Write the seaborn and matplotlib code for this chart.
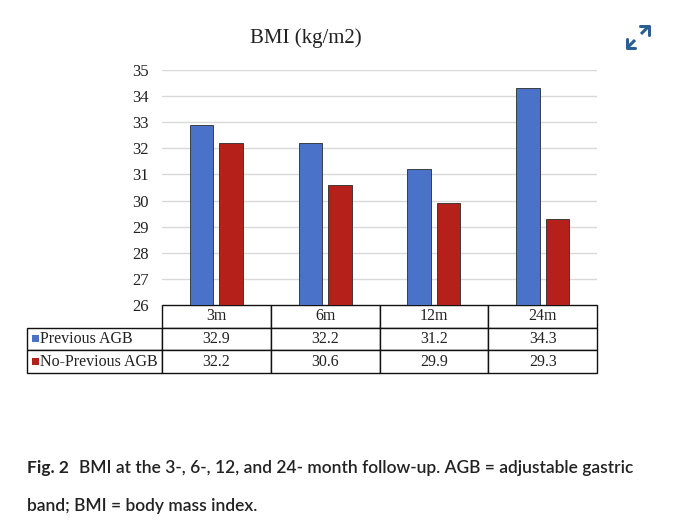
import matplotlib
matplotlib.use("Agg")
import matplotlib.pyplot as plt
import seaborn as sns
import pandas as pd
from matplotlib.patches import Rectangle

categories = ["3m", "6m", "12m", "24m"]
series_names = ["Previous AGB", "No-Previous AGB"]
previous_agb = [32.9, 32.2, 31.2, 34.3]
no_previous_agb = [32.2, 30.6, 29.9, 29.3]
y_ticks = [26, 27, 28, 29, 30, 31, 32, 33, 34, 35]

df = pd.DataFrame({
    "period": categories * 2,
    "group": [series_names[0]] * 4 + [series_names[1]] * 4,
    "bmi": previous_agb + no_previous_agb,
})

sns.set_theme(style="white")
plt.rcParams["font.family"] = ["Liberation Serif", "DejaVu Serif"]

W, H = 680, 527
fig = plt.figure(figsize=(W / 100, H / 100), dpi=100)

def fx(px):
    return px / W

def fy(py):
    return 1 - py / H

blue = "#4a72c8"
red = "#b5201b"

ax_l, ax_r, ax_t, ax_b = 162, 597, 70, 305
ax = fig.add_axes([fx(ax_l), fy(ax_b), fx(ax_r - ax_l), (ax_b - ax_t) / H])
sns.barplot(data=df, x="period", y="bmi", hue="group", order=categories,
            hue_order=series_names, palette=[blue, red], width=0.54, gap=0.2,
            saturation=1, edgecolor="#2a2a2a", linewidth=0.6, ax=ax, legend=False)
ax.set_ylim(26, 35)
ax.set_xlim(-0.5, 3.5)
ax.set_yticks(y_ticks)
ax.set_yticklabels([str(t) for t in y_ticks], fontsize=12, color="#222222")
ax.tick_params(axis="y", length=0, pad=9.5)
ax.set_xticks([])
ax.set_xlabel("")
ax.set_ylabel("")
ax.yaxis.grid(True, color="#d9d9d9", linewidth=1)
ax.set_axisbelow(True)
for s in ax.spines.values():
    s.set_visible(False)

# data table below
tab_l, tab_top, tab_bot = 27, 305, 373
cell_text = [["", *categories],
             ["Previous AGB", *[f"{v:.1f}" for v in previous_agb]],
             ["No-Previous AGB", *[f"{v:.1f}" for v in no_previous_agb]]]
ax_w = ax_r - ax_l
ax_h = ax_b - ax_t
x0 = (tab_l - ax_l) / ax_w
tw = (ax_r - tab_l) / ax_w
th = (tab_bot - tab_top) / ax_h
tbl = ax.table(cellText=cell_text, cellLoc="center",
               bbox=[x0, -th, tw, th])
tbl.auto_set_font_size(False)
first_w = (ax_l - tab_l) / (ax_r - tab_l)
other_w = (1 - first_w) / 4
for (r, c), cell in tbl.get_celld().items():
    cell.set_width(first_w if c == 0 else other_w)
    cell.set_edgecolor("#111111")
    cell.set_linewidth(1.0)
    cell.get_text().set_fontsize(11.5)
    cell.get_text().set_color("#222222")
    if c == 0:
        cell.get_text().set_ha("left")
        cell.PAD = 0.095
    if r == 0 and c == 0:
        cell.set_visible(False)

# legend keys in table row labels
for i, col in enumerate([blue, red]):
    cy = 338.5 + i * 23
    ax.add_patch(Rectangle(((31.5 - ax_l) / ax_w, (ax_b - cy - 3.5) / ax_h),
                           7 / ax_w, 7 / ax_h, transform=ax.transAxes,
                           facecolor=col, edgecolor="none", clip_on=False, zorder=5))

fig.text(fx(305.5), fy(38), "BMI (kg/m2)", ha="center", va="center",
         fontsize=15, color="#222222")

# overlay for icon
ov = fig.add_axes([0, 0, 1, 1], facecolor="none")
ov.set_xlim(0, W)
ov.set_ylim(H, 0)
ov.axis("off")
ic = "#2b5f91"
ov.plot([627, 635], [48, 40], color=ic, lw=2.2, solid_capstyle="butt")
ov.plot([641, 649], [34, 26], color=ic, lw=2.2, solid_capstyle="butt")
ov.plot([627, 627, 635], [39, 48, 48], color=ic, lw=2.2)
ov.plot([640, 649, 649], [26, 26, 35], color=ic, lw=2.2)

cap_font = ["Lato", "DejaVu Sans"]
fig.text(fx(27), fy(468), "Fig. 2", ha="left", va="center", fontsize=12.5,
         fontweight="bold", family=cap_font, color="#222222")
fig.text(fx(79), fy(468), "BMI at the 3-, 6-, 12, and 24- month follow-up. AGB = adjustable gastric",
         ha="left", va="center", fontsize=12.5, fontweight="semibold", family=cap_font, color="#222222")
fig.text(fx(27), fy(506), "band; BMI = body mass index.", ha="left", va="center",
         fontsize=12.5, fontweight="semibold", family=cap_font, color="#222222")

fig.savefig("out.png", dpi=100)
